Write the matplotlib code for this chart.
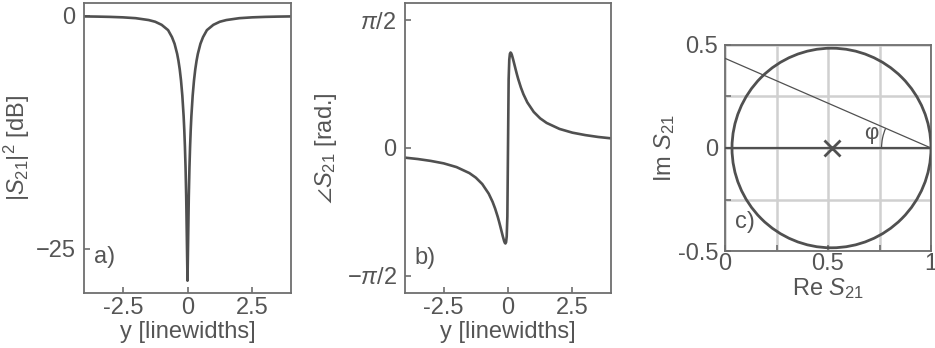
import numpy as np
import matplotlib
matplotlib.use("Agg")
import matplotlib.pyplot as plt
from matplotlib.patches import Circle, Arc

# detuning in linewidths
y_lw = [-4.0, -3.5, -3.0, -2.5, -2.0, -1.5, -1.25, -1.0, -0.75, -0.6, -0.5,
        -0.4, -0.35, -0.3, -0.25, -0.2, -0.15, -0.125, -0.1, -0.075, -0.05,
        -0.025, 0.0, 0.025, 0.05, 0.075, 0.1, 0.125, 0.15, 0.2, 0.25, 0.3,
        0.35, 0.4, 0.5, 0.6, 0.75, 1.0, 1.25, 1.5, 2.0, 2.5, 3.0, 3.5, 4.0]
# |S21|^2 in dB
mag_db = [-0.07, -0.09, -0.12, -0.17, -0.26, -0.46, -0.64, -0.97, -1.54, -2.29,
          -3.00, -4.08, -4.82, -5.75, -6.96, -8.56, -10.75, -12.2, -14.0, -16.3,
          -19.4, -23.9, -28.4, -23.9, -19.4, -16.3, -14.0, -12.2, -10.75, -8.56,
          -6.96, -5.75, -4.82, -4.08, -3.00, -2.29, -1.54, -0.97, -0.64, -0.46,
          -0.26, -0.17, -0.12, -0.09, -0.07]
# phase of S21 in rad
phase = [-0.119, -0.136, -0.159, -0.189, -0.235, -0.309, -0.365, -0.444, -0.562,
         -0.662, -0.746, -0.846, -0.903, -0.964, -1.027, -1.090, -1.147, -1.167,
         -1.176, -1.161, -1.090, -0.846, 0.0, 0.846, 1.090, 1.161, 1.176, 1.167,
         1.147, 1.090, 1.027, 0.964, 0.903, 0.846, 0.746, 0.662, 0.562, 0.444,
         0.365, 0.309, 0.235, 0.189, 0.159, 0.136, 0.119]

# resonance circle in the complex plane
circle_center = (0.517, 0.0)
circle_radius = 0.483
phi_line_end = 0.434   # Im value where the phi line meets Re = 0
phi_deg = 23.5

text_c = "#555555"
line_c = "#505050"
spine_c = "#6e6e6e"
grid_c = "#d0d0d0"

plt.rcParams["font.family"] = ["Liberation Sans", "DejaVu Sans"]
plt.rcParams["mathtext.fontset"] = "custom"
plt.rcParams["mathtext.rm"] = "Liberation Sans"
plt.rcParams["mathtext.it"] = "Liberation Sans:italic"
plt.rcParams["font.size"] = 17
plt.rcParams["text.color"] = text_c
plt.rcParams["axes.labelcolor"] = text_c
plt.rcParams["xtick.color"] = spine_c
plt.rcParams["ytick.color"] = spine_c
plt.rcParams["xtick.labelcolor"] = text_c
plt.rcParams["ytick.labelcolor"] = text_c

fig = plt.figure(figsize=(9.35, 3.48), dpi=100)
W, H = 935., 348.


def add_ax(l, r, t, b):
    return fig.add_axes([l / W, 1 - b / H, (r - l) / W, (b - t) / H])


def style(ax):
    for s in ax.spines.values():
        s.set_color(spine_c)
        s.set_linewidth(1.3)
    ax.tick_params(direction="in", length=4, width=1.2, top=False, right=False)


ax_a = add_ax(84, 291, 2.7, 293.3)
ax_b = add_ax(405, 611, 2.7, 293.3)
ax_c = add_ax(725, 931, 44.7, 251.3)

# a) magnitude
style(ax_a)
ax_a.plot(y_lw, mag_db, color=line_c, lw=1.9)
ax_a.set_xlim(-4, 4)
ax_a.set_ylim(-29.75, 1.4)
ax_a.set_xticks([-2.5, 0, 2.5])
ax_a.set_xticklabels(["-2.5", "0", "2.5"])
ax_a.set_yticks([0, -25])
ax_a.set_yticklabels(["0", "\u221225"])
ax_a.tick_params(axis="x", pad=3)
ax_a.tick_params(axis="y", pad=6)
ax_a.set_xlabel("y [linewidths]")
ax_a.set_ylabel(r"$|S_{21}|^2$ [dB]")
ax_a.xaxis.set_label_coords(0.5, -0.097)
ax_a.yaxis.set_label_coords(-0.25, 0.5)
ax_a.text(-3.62, -25.9, "a)", va="center", ha="left")

# b) phase
style(ax_b)
ax_b.plot(y_lw, phase, color=line_c, lw=1.9)
ax_b.set_xlim(-4, 4)
ax_b.set_ylim(-1.79, 1.79)
ax_b.set_xticks([-2.5, 0, 2.5])
ax_b.set_xticklabels(["-2.5", "0", "2.5"])
ax_b.set_yticks([np.pi / 2, 0, -np.pi / 2])
ax_b.set_yticklabels([r"$\pi/2$", "0", r"$-\pi/2$"])
ax_b.tick_params(axis="x", pad=3)
ax_b.tick_params(axis="y", pad=6)
ax_b.set_xlabel("y [linewidths]")
ax_b.set_ylabel(r"$\angle S_{21}$ [rad.]")
ax_b.xaxis.set_label_coords(0.5, -0.097)
ax_b.yaxis.set_label_coords(-0.32, 0.5)
ax_b.text(-3.62, -1.35, "b)", va="center", ha="left")

# c) complex plane
style(ax_c)
ax_c.set_xlim(0, 1)
ax_c.set_ylim(-0.5, 0.5)
ax_c.set_xticks([0, 0.5, 1])
ax_c.set_xticklabels(["0", "0.5", "1"])
ax_c.set_xticks([0.25, 0.75], minor=True)
ax_c.set_yticks([-0.5, 0, 0.5])
ax_c.set_yticklabels(["-0.5", "0", "0.5"])
ax_c.set_yticks([-0.25, 0.25], minor=True)
ax_c.tick_params(which="minor", direction="in", length=4, width=1.2,
                 color=spine_c)
ax_c.grid(True, which="both", color=grid_c, lw=1.8)
ax_c.set_axisbelow(True)
ax_c.tick_params(axis="x", pad=1)
ax_c.tick_params(axis="y", pad=5)
ax_c.set_xlabel(r"Re $S_{21}$")
ax_c.set_ylabel(r"Im $S_{21}$")
ax_c.xaxis.set_label_coords(0.5, -0.12)
ax_c.yaxis.set_label_coords(-0.235, 0.5)
ax_c.plot([0, 1], [0, 0], color=line_c, lw=1.6, zorder=3)
ax_c.plot([1, 0], [0, phi_line_end], color=line_c, lw=0.9, zorder=3)
ax_c.add_patch(Circle(circle_center, circle_radius, fill=False,
                      ec=line_c, lw=2.0, zorder=4))
ax_c.plot([circle_center[0]], [circle_center[1]], marker="x", ms=11, mew=2,
          color=line_c, zorder=5)
ax_c.add_patch(Arc((1, 0), 0.48, 0.48, theta1=180 - phi_deg, theta2=180,
                   color=line_c, lw=0.9, zorder=3))
ax_c.text(0.71, 0.07, "\u03c6", ha="center", va="center", fontsize=16)
ax_c.text(0.05, -0.36, "c)", ha="left", va="center")

fig.savefig("out.png", dpi=100)
